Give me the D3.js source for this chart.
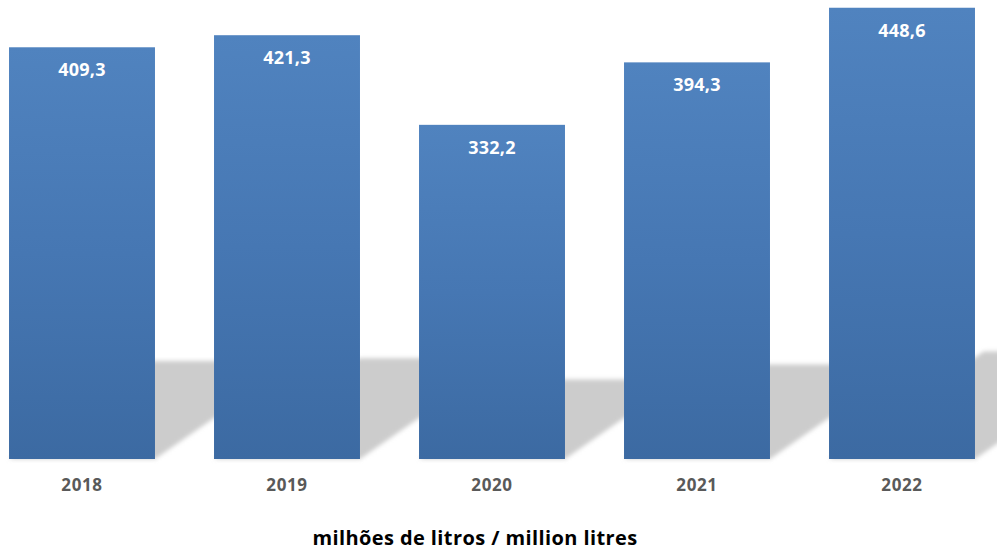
<!DOCTYPE html>
<html>
<head>
<meta charset="utf-8">
<script src="https://cdn.jsdelivr.net/npm/d3@7"></script>
<style>
  html, body { margin: 0; padding: 0; background: #fff; }
  svg { display: block; font-family: "Open Sans", "Noto Sans", sans-serif; }
</style>
</head>
<body>
<svg id="chart" width="997" height="552"></svg>
<script>
// Annual volumes, million litres
const years = ["2018", "2019", "2020", "2021", "2022"];
const volumes = [409.3, 421.3, 332.2, 394.3, 448.6];
const valueLabels = ["409,3", "421,3", "332,2", "394,3", "448,6"];
const axisTitle = "milhões de litros / million litres";

const W = 997, H = 552;
const baseY = 459;

const svg = d3.select("#chart");

const x = d3.scaleBand()
  .domain(years)
  .range([-20.5, 1004.5])
  .paddingInner(0.288)
  .paddingOuter(0.144);

const y = d3.scaleLinear()
  .domain([0, 456.3])
  .range([baseY, 0]);

const defs = svg.append("defs");

const grad = defs.append("linearGradient")
  .attr("id", "barFill")
  .attr("x1", 0).attr("y1", 0).attr("x2", 0).attr("y2", 1);
grad.append("stop").attr("offset", "0%").attr("stop-color", "#5083bf");
grad.append("stop").attr("offset", "50%").attr("stop-color", "#4677b3");
grad.append("stop").attr("offset", "100%").attr("stop-color", "#3c6aa2");

defs.append("filter")
  .attr("id", "soft")
  .attr("x", "-10%").attr("y", "-10%").attr("width", "120%").attr("height", "120%")
  .append("feGaussianBlur").attr("stdDeviation", 2);

const rows = years.map((yr, i) => ({ year: yr, value: volumes[i], label: valueLabels[i] }));

// Slanted cast shadows behind each bar
const shadowRatio = 0.238, shadowSlant = 1.44;
svg.append("g")
  .attr("filter", "url(#soft)")
  .selectAll("path")
  .data(rows)
  .join("path")
  .attr("fill", "#cccccc")
  .attr("d", d => {
    const x0 = x(d.year), x1 = x0 + x.bandwidth();
    const hs = (baseY - y(d.value)) * shadowRatio;
    const dx = hs * shadowSlant;
    return `M${x0},${baseY}L${x1},${baseY}L${x1 + dx},${baseY - hs}L${x0 + dx},${baseY - hs}Z`;
  });

// Bars
svg.append("g")
  .selectAll("rect")
  .data(rows)
  .join("rect")
  .attr("x", d => x(d.year))
  .attr("y", d => y(d.value))
  .attr("width", x.bandwidth())
  .attr("height", d => baseY - y(d.value))
  .attr("fill", "url(#barFill)");

// Value labels inside the top of each bar
svg.append("g")
  .selectAll("text")
  .data(rows)
  .join("text")
  .attr("x", d => x(d.year) + x.bandwidth() / 2)
  .attr("y", d => y(d.value) + 29)
  .attr("text-anchor", "middle")
  .attr("fill", "#ffffff")
  .attr("font-weight", 700)
  .attr("font-size", 18)
  .attr("letter-spacing", 0.2)
  .text(d => d.label);

// Category axis
const xAxis = svg.append("g")
  .attr("transform", `translate(0,${baseY})`)
  .call(d3.axisBottom(x).tickSize(0).tickPadding(20));
xAxis.select(".domain").remove();
xAxis.selectAll("text")
  .attr("fill", "#595959")
  .attr("font-family", "\"Open Sans\", \"Noto Sans\", sans-serif")
  .attr("font-weight", 700)
  .attr("font-size", 17)
  .attr("letter-spacing", 0.6);

// Axis title
svg.append("text")
  .attr("x", 475)
  .attr("y", 545)
  .attr("text-anchor", "middle")
  .attr("fill", "#000000")
  .attr("font-weight", 700)
  .attr("font-size", 20)
  .attr("letter-spacing", 0.4)
  .text(axisTitle);
</script>
</body>
</html>
